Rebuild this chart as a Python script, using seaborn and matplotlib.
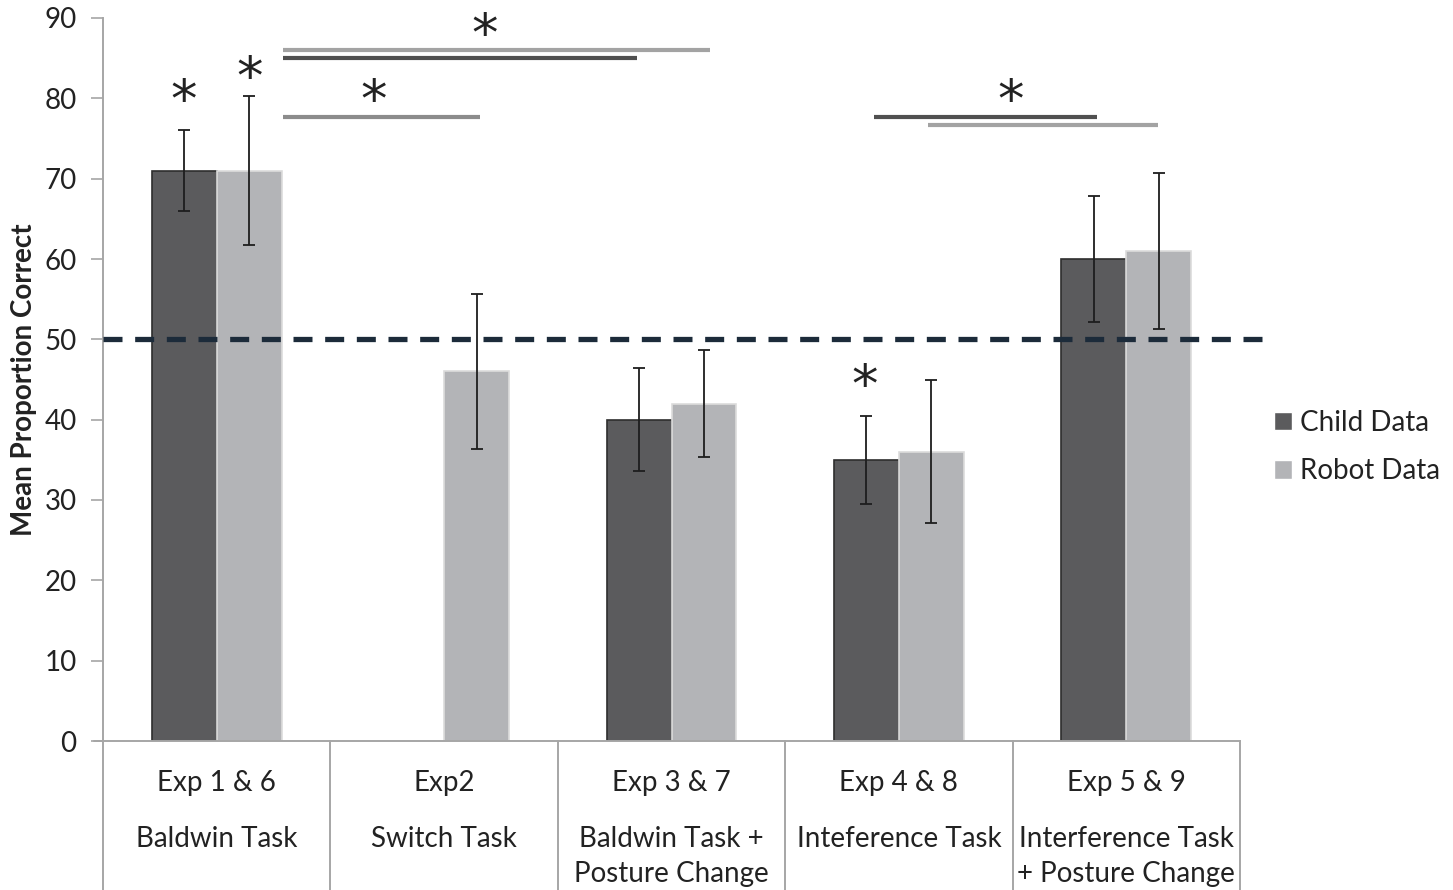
import numpy as np
import pandas as pd
import matplotlib
matplotlib.use("Agg")
import matplotlib.pyplot as plt
import seaborn as sns

# ---------------- data ----------------
cat_line1 = ["Exp 1 & 6", "Exp2", "Exp 3 & 7", "Exp 4 & 8", "Exp 5 & 9"]
cat_line2 = ["Baldwin Task", "Switch Task", "Baldwin Task +\nPosture Change",
             "Inteference Task", "Interference Task\n+ Posture Change"]
series_names = ["Child Data", "Robot Data"]
child_vals = [71, np.nan, 40, 35, 60]
robot_vals = [71, 46, 42, 36, 61]
child_err = [5.0, np.nan, 6.4, 5.5, 7.9]
robot_err = [9.3, 9.7, 6.7, 8.9, 9.7]
chance_level = 50
y_ticks = [0, 10, 20, 30, 40, 50, 60, 70, 80, 90]

# significance bars: (x_start, x_end, y, color)
sig_lines = [
    (0.29, 2.17, 86.0, "#a3a3a3"),
    (0.29, 1.85, 85.0, "#505050"),
    (0.29, 1.16, 77.7, "#8c8c8c"),
    (2.89, 3.87, 77.7, "#505050"),
    (3.13, 4.14, 76.7, "#a3a3a3"),
]
# asterisks: (x, y)
stars = [(-0.145, 81.0), (0.145, 83.9), (1.18, 89.3), (0.69, 81.0),
         (2.85, 45.6), (3.49, 81.0)]

colors = {"Child Data": "#5b5b5d", "Robot Data": "#b3b4b7"}
edges = {"Child Data": "#2e2e2e", "Robot Data": "#dcdcdc"}

df = pd.DataFrame({
    "cat": cat_line1 * 2,
    "series": [series_names[0]] * 5 + [series_names[1]] * 5,
    "value": child_vals + robot_vals,
})

# ---------------- figure ----------------
sns.set_theme(style="white")
plt.rcParams["font.family"] = ["Lato", "DejaVu Sans"]

W, H = 1453, 890
fig = plt.figure(figsize=(W / 100, H / 100), dpi=100)
ax = fig.add_axes([103 / W, (H - 741) / H, (1240 - 103) / W, (741 - 18) / H])

width = 0.57
sns.barplot(data=df, x="cat", y="value", hue="series", order=cat_line1,
            hue_order=series_names, palette=colors, width=width,
            errorbar=None, ax=ax, legend=True, saturation=1)

for cont, name in zip(ax.containers, series_names):
    for p in cont.patches:
        p.set_edgecolor(edges[name])
        p.set_linewidth(1.2)

# error bars
off = width / 4
xs = np.arange(len(cat_line1))
ax.errorbar(xs - off, child_vals, yerr=child_err, fmt="none", ecolor="#1e1e1e",
            elinewidth=1.3, capsize=4.5, capthick=1.3, zorder=5)
ax.errorbar(xs + off, robot_vals, yerr=robot_err, fmt="none", ecolor="#1e1e1e",
            elinewidth=1.3, capsize=4.5, capthick=1.3, zorder=5)

# chance line
ax.plot([-0.5, 4.597], [chance_level, chance_level], ls=(0, (3.6, 2.4)),
        color="#1c2b3a", lw=3.8, clip_on=False, zorder=6)

# significance lines & stars
for x0, x1, y, c in sig_lines:
    ax.plot([x0, x1], [y, y], color=c, lw=3.0, solid_capstyle="butt",
            clip_on=False, zorder=6)
for x, y in stars:
    ax.annotate("*", (x, y), xytext=(0, -12), textcoords="offset pixels",
                ha="center", va="center", fontsize=38, color="#222222",
                family="DejaVu Sans", annotation_clip=False, zorder=7)

# axes styling
ax.set_xlim(-0.5, 4.5)
ax.set_ylim(0, 90)
ax.set_yticks(y_ticks)
ax.tick_params(axis="y", which="major", length=9, width=1.2, color="#a6a6a6",
               labelsize=20, labelcolor="#222222", pad=10, left=True)
ax.set_ylabel("Mean Proportion Correct", fontsize=20, fontweight="bold",
              color="#222222", labelpad=5)
ax.set_xlabel("")
ax.set_xticks(xs)
ax.set_xticklabels(cat_line1, fontsize=20, color="#222222")
ax.tick_params(axis="x", length=0, pad=21)
for s in ["top", "right"]:
    ax.spines[s].set_visible(False)
for s in ["left", "bottom"]:
    ax.spines[s].set_color("#a6a6a6")
    ax.spines[s].set_linewidth(1.4)

# extend left tick line on x axis at 0
ax.plot([-0.54, -0.5], [0, 0], color="#a6a6a6", lw=1.4, clip_on=False)

# category separators below axis
trans = ax.get_xaxis_transform()
for b in np.arange(-0.5, 5.0, 1.0):
    ax.plot([b, b], [0, -0.21], transform=trans, color="#a6a6a6", lw=1.4,
            clip_on=False)

# second label lines
for i, lab in enumerate(cat_line2):
    ax.text(i, -0.118, lab, transform=trans, ha="center", va="top",
            fontsize=20, color="#222222", linespacing=1.4)

# legend
handles, labels = ax.get_legend_handles_labels()
ax.legend(handles, labels, loc="center left", bbox_to_anchor=(1274 / W, 443 / H),
          bbox_transform=fig.transFigure, frameon=False, fontsize=20,
          borderpad=0, borderaxespad=0,
          handlelength=0.65, handleheight=0.65, handletextpad=0.3,
          labelspacing=0.8, labelcolor="#222222")

fig.savefig("out.png", dpi=100)
